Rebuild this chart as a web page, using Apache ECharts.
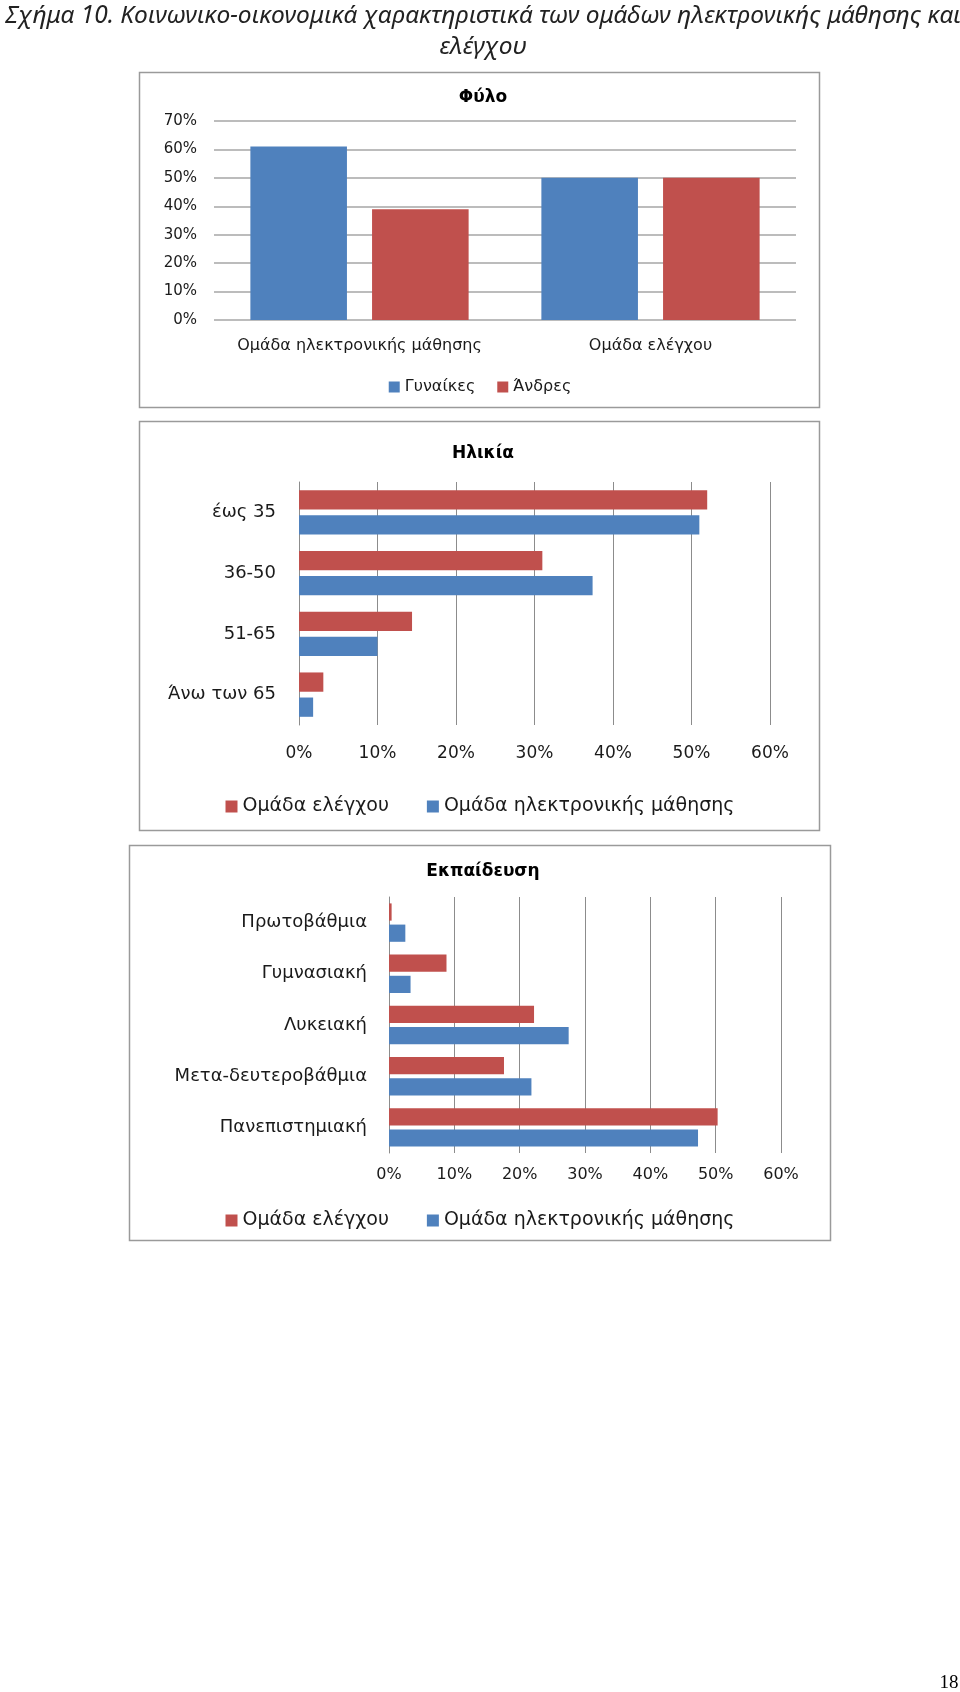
<!DOCTYPE html>
<html><head><meta charset="utf-8">
<script src="https://cdn.jsdelivr.net/npm/echarts@6/dist/echarts.min.js"></script>
<style>html,body{margin:0;padding:0;background:#fff}#c{width:960px;height:1692px}</style>
</head><body><div id="c"></div>
<script>
const headingLine1 = 'Σχήμα 10. Κοινωνικο-οικονομικά χαρακτηριστικά των ομάδων ηλεκτρονικής μάθησης και';
const headingLine2 = 'ελέγχου';
const pageNumber = '18';

const genderTitle = 'Φύλο';
const genderCategories = ['Ομάδα ηλεκτρονικής μάθησης', 'Ομάδα ελέγχου'];
const genderSeriesNames = ['Γυναίκες', 'Άνδρες'];
const genderWomen = [61, 50];
const genderMen = [39, 50];

const ageTitle = 'Ηλικία';
const ageCategories = ['έως 35', '36-50', '51-65', 'Άνω των 65'];
const groupNames = ['Ομάδα ελέγχου', 'Ομάδα ηλεκτρονικής μάθησης'];
const ageControl = [52, 31, 14.4, 3.1];
const ageElearning = [51, 37.4, 10, 1.8];

const eduTitle = 'Εκπαίδευση';
const eduCategories = ['Πρωτοβάθμια', 'Γυμνασιακή', 'Λυκειακή', 'Μετα-δευτεροβάθμια', 'Πανεπιστημιακή'];
const eduControl = [0.4, 8.8, 22.2, 17.6, 50.3];
const eduElearning = [2.5, 3.3, 27.5, 21.8, 47.3];

const BLUE = '#4F81BD', RED = '#C0504D';
const FONT = 'DejaVu Sans';
const TXT = '#1a1a1a';
const GRIDC = '#a6a6a6';

const chart = echarts.init(document.getElementById('c'), null, {renderer: 'canvas'});

function box(x, y, w, h) {
  return {type: 'rect', shape: {x: x + 0.5, y: y + 0.5, width: w, height: h},
    style: {fill: '#fff', stroke: '#9a9a9a', lineWidth: 1.5}, z: -10};
}

const option = {
  animation: false,
  backgroundColor: '#fff',
  textStyle: {fontFamily: FONT, color: TXT},
  graphic: [
    box(139, 72, 680, 335),
    box(139, 421, 680, 409),
    box(129, 845, 701, 395)
  ],
  title: [
    {text: headingLine1, left: 478, top: -1, textAlign: 'center',
      textStyle: {fontFamily: 'Noto Sans', fontStyle: 'italic', fontWeight: 'normal', fontSize: 24.5, color: '#222'}},
    {text: headingLine2, left: 478, top: 30, textAlign: 'center',
      textStyle: {fontFamily: 'Noto Sans', fontStyle: 'italic', fontWeight: 'normal', fontSize: 24.5, color: '#222'}},
    {text: genderTitle, left: 478, top: 84, textAlign: 'center',
      textStyle: {fontFamily: FONT, fontWeight: 'bold', fontSize: 17, color: '#000'}},
    {text: ageTitle, left: 478, top: 440, textAlign: 'center',
      textStyle: {fontFamily: FONT, fontWeight: 'bold', fontSize: 17, color: '#000'}},
    {text: eduTitle, left: 478, top: 858, textAlign: 'center',
      textStyle: {fontFamily: FONT, fontWeight: 'bold', fontSize: 17, color: '#000'}},
    {text: pageNumber, left: 944, top: 1669, textAlign: 'center',
      textStyle: {fontFamily: 'Liberation Serif', fontWeight: 'normal', fontSize: 19, color: '#000'}}
  ],
  legend: [
    {data: genderSeriesNames, left: 'center', top: 374, itemGap: 22, itemWidth: 11, itemHeight: 11,
      icon: 'rect', textStyle: {fontFamily: FONT, fontSize: 16, color: TXT}, selectedMode: false},
    {data: groupNames, left: 'center', top: 792, itemGap: 38, itemWidth: 12, itemHeight: 12,
      icon: 'rect', textStyle: {fontFamily: FONT, fontSize: 19, color: TXT}, selectedMode: false},
    {data: groupNames, left: 'center', top: 1206, itemGap: 38, itemWidth: 12, itemHeight: 12,
      icon: 'rect', textStyle: {fontFamily: FONT, fontSize: 19, color: TXT}, selectedMode: false}
  ],
  grid: [
    {left: 214, top: 121, width: 582, height: 199},
    {left: 299, top: 482, width: 471, height: 243},
    {left: 389, top: 897, width: 392, height: 256}
  ],
  xAxis: [
    {type: 'category', gridIndex: 0, data: genderCategories,
      axisLine: {show: false}, axisTick: {show: false},
      axisLabel: {interval: 0, margin: 18, fontSize: 16, color: TXT, fontFamily: FONT}},
    {type: 'value', gridIndex: 1, min: 0, max: 60, interval: 10,
      axisLine: {show: false}, axisTick: {show: false},
      splitLine: {lineStyle: {color: '#8c8c8c', width: 1}},
      axisLabel: {margin: 20, fontSize: 17, color: TXT, fontFamily: FONT, formatter: '{value}%'}},
    {type: 'value', gridIndex: 2, min: 0, max: 60, interval: 10,
      axisLine: {show: false}, axisTick: {show: false},
      splitLine: {lineStyle: {color: '#8c8c8c', width: 1}},
      axisLabel: {margin: 14, fontSize: 16, color: TXT, fontFamily: FONT, formatter: '{value}%'}}
  ],
  yAxis: [
    {type: 'value', gridIndex: 0, min: 0, max: 70, interval: 10,
      axisLine: {show: false}, axisTick: {show: false},
      splitLine: {lineStyle: {color: GRIDC, width: 1.5}},
      axisLabel: {margin: 17, fontSize: 15, color: TXT, fontFamily: FONT, formatter: '{value}%'}},
    {type: 'category', gridIndex: 1, data: ageCategories, inverse: true,
      axisLine: {show: true, lineStyle: {color: '#8c8c8c'}}, axisTick: {show: false},
      axisLabel: {interval: 0, margin: 23, fontSize: 18, color: TXT, fontFamily: FONT}},
    {type: 'category', gridIndex: 2, data: eduCategories, inverse: true,
      axisLine: {show: true, lineStyle: {color: '#8c8c8c'}}, axisTick: {show: false},
      axisLabel: {interval: 0, margin: 22, fontSize: 18, color: TXT, fontFamily: FONT}}
  ],
  series: [
    {name: genderSeriesNames[0], type: 'bar', xAxisIndex: 0, yAxisIndex: 0, data: genderWomen,
      itemStyle: {color: BLUE}, barCategoryGap: '25%', barGap: '26%'},
    {name: genderSeriesNames[1], type: 'bar', xAxisIndex: 0, yAxisIndex: 0, data: genderMen,
      itemStyle: {color: RED}, barCategoryGap: '25%', barGap: '26%'},
    {name: groupNames[0], type: 'bar', xAxisIndex: 1, yAxisIndex: 1, data: ageControl,
      itemStyle: {color: RED}, barCategoryGap: '27%', barGap: '30%'},
    {name: groupNames[1], type: 'bar', xAxisIndex: 1, yAxisIndex: 1, data: ageElearning,
      itemStyle: {color: BLUE}, barCategoryGap: '27%', barGap: '30%'},
    {name: groupNames[0], type: 'bar', xAxisIndex: 2, yAxisIndex: 2, data: eduControl,
      itemStyle: {color: RED}, barCategoryGap: '25%', barGap: '23%'},
    {name: groupNames[1], type: 'bar', xAxisIndex: 2, yAxisIndex: 2, data: eduElearning,
      itemStyle: {color: BLUE}, barCategoryGap: '25%', barGap: '23%'}
  ]
};
chart.setOption(option);
</script>
</body></html>
